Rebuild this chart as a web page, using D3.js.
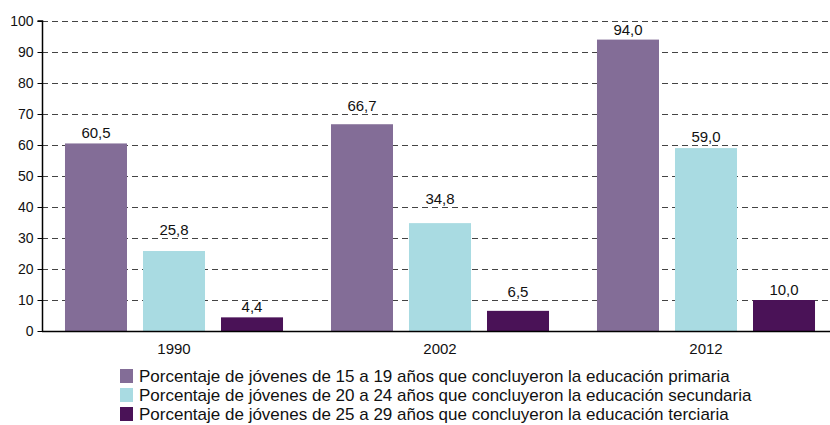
<!DOCTYPE html>
<html><head><meta charset="utf-8">
<script src="https://cdn.jsdelivr.net/npm/d3@7/dist/d3.min.js"></script>
<style>body{margin:0;background:#fff;}svg{display:block;font-family:"Liberation Sans",Arial,sans-serif;}</style>
</head><body>
<svg id="c" width="830" height="425"></svg>
<script>
const categories = ["1990", "2002", "2012"];
const seriesNames = [
  "Porcentaje de jóvenes de 15 a 19 años que concluyeron la educación primaria",
  "Porcentaje de jóvenes de 20 a 24 años que concluyeron la educación secundaria",
  "Porcentaje de jóvenes de 25 a 29 años que concluyeron la educación terciaria"
];
const primaria = [60.5, 66.7, 94.0];
const secundaria = [25.8, 34.8, 59.0];
const terciaria = [4.4, 6.5, 10.0];
const yTicks = [0, 10, 20, 30, 40, 50, 60, 70, 80, 90, 100];
const colors = ["#836d97", "#a9dbe2", "#4a1257"];

(function () {
const series = [primaria, secundaria, terciaria];
const svg = d3.select("#c");
const mLeft = 42, mRight = 830, mTop = 21, mBottom = 331;
const y = d3.scaleLinear().domain([0, 100]).range([mBottom, mTop]);
const x0 = d3.scaleBand().domain(categories).range([41, 839]).padding(0);
const x1 = d3.scaleBand().domain(d3.range(series.length)).range([0, x0.bandwidth()]).paddingInner(0.205).paddingOuter(0.3075);
const gridVals = yTicks.filter(d => d > 0);

// gridlines
svg.append("g").selectAll("line").data(gridVals).join("line")
  .attr("x1", mLeft).attr("x2", mRight)
  .attr("y1", d => y(d) + 0.5).attr("y2", d => y(d) + 0.5)
  .attr("stroke", "#444").attr("stroke-width", 1).attr("stroke-dasharray", "6,4");

// bars
const fmt = v => v.toFixed(1).replace(".", ",");
const labelBase = v => {
  let b = y(v) - 5;
  gridVals.forEach(g => {
    const gy = y(g);
    if (gy >= b - 12 && gy <= b + 2) b = gy - 3;
  });
  return b;
};
categories.forEach((c, i) => {
  series.forEach((s, j) => {
    const bx = x0(c) + x1(j);
    svg.append("rect").attr("x", bx).attr("y", y(s[i])).attr("width", x1.bandwidth())
      .attr("height", y(0) - y(s[i])).attr("fill", colors[j]);
    svg.append("text").attr("x", bx + x1.bandwidth() / 2).attr("y", labelBase(s[i]))
      .attr("text-anchor", "middle").attr("font-size", 15).attr("fill", "#111").text(fmt(s[i]));
  });
});

// y axis
const yAxis = d3.axisLeft(y).tickValues(yTicks).tickSize(5).tickPadding(4);
const gy = svg.append("g").attr("transform", `translate(${mLeft + 0.5},0)`).call(yAxis);
gy.select(".domain").attr("stroke", "#000").attr("stroke-width", 1.5).attr("d", `M-5,${mTop}H0V${mBottom}`);
gy.selectAll(".tick line").attr("stroke", "#000");
gy.selectAll(".tick text").attr("font-size", 14).attr("fill", "#111").attr("font-family", "Liberation Sans, Arial, sans-serif");

// x axis
const xAxis = d3.axisBottom(x0).tickSize(0).tickPadding(12);
const gx = svg.append("g").attr("transform", `translate(0,${mBottom + 0.5})`).call(xAxis);
gx.select(".domain").attr("stroke", "#000").attr("stroke-width", 1.5).attr("d", `M${mLeft},0H${mRight}`);
gx.selectAll(".tick text").attr("font-size", 15).attr("fill", "#111").attr("font-family", "Liberation Sans, Arial, sans-serif");

// legend
const lg = svg.append("g");
seriesNames.forEach((n, j) => {
  const by = 382 + j * 19;
  lg.append("rect").attr("x", 120).attr("y", by - 13).attr("width", 13).attr("height", 14).attr("fill", colors[j]);
  lg.append("text").attr("x", 139).attr("y", by).attr("font-size", 17).attr("fill", "#111").text(n);
});
})();
</script>
</body></html>
